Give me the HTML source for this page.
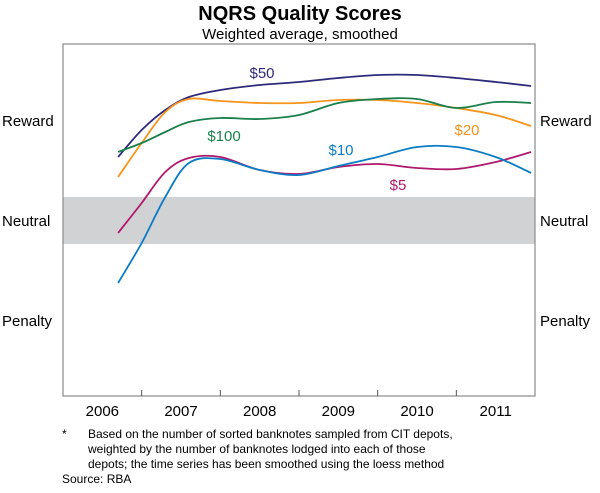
<!DOCTYPE html>
<html><head><meta charset="utf-8"><style>
body{margin:0;background:#fff;width:600px;height:488px;overflow:hidden;font-family:"Liberation Sans",Arial,sans-serif}
</style></head><body>
<svg width="600" height="488" viewBox="0 0 600 488" xmlns="http://www.w3.org/2000/svg" font-family="Liberation Sans, Arial, sans-serif">
<text x="300" y="20" text-anchor="middle" font-size="20" font-weight="bold" fill="#000">NQRS Quality Scores</text>
<text x="300" y="39" text-anchor="middle" font-size="15" fill="#000">Weighted average, smoothed</text>
<rect x="63" y="197" width="472" height="47" fill="#d1d2d4"/>
<g id="series"></g>
<rect x="63" y="44" width="472" height="352" fill="none" stroke="#8a8a8a" stroke-width="1.2"/>
<g id="xaxis"></g>
<g font-size="15" fill="#000">
<text x="2" y="126">Reward</text><text x="2" y="226">Neutral</text><text x="2" y="326">Penalty</text>
</g>
<g font-size="15" fill="#000">
<text x="540" y="126">Reward</text><text x="540" y="226">Neutral</text><text x="540" y="326">Penalty</text>
</g>
<g font-size="12" fill="#000">
<text x="62" y="438">*</text>
<text x="88" y="438">Based on the number of sorted banknotes sampled from CIT depots,</text>
<text x="88" y="453">weighted by the number of banknotes lodged into each of those</text>
<text x="88" y="468">depots; the time series has been smoothed using the loess method</text>
<text x="62" y="483">Source: RBA</text>
</g>
</svg>
<script>
const years=[2006.7,2007.0,2007.3,2007.6,2008.0,2008.5,2009.0,2009.5,2010.0,2010.5,2011.0,2011.5,2011.95];
const s50=[0.63,0.90,1.10,1.23,1.30,1.35,1.38,1.42,1.45,1.45,1.42,1.38,1.34];
const s20=[0.43,0.77,1.08,1.21,1.19,1.17,1.17,1.20,1.20,1.17,1.12,1.05,0.94];
const s100=[0.68,0.77,0.88,0.98,1.02,1.01,1.05,1.17,1.21,1.21,1.12,1.18,1.17];
const s5=[-0.13,0.17,0.48,0.62,0.63,0.50,0.46,0.53,0.56,0.52,0.51,0.58,0.68];
const s10=[-0.63,-0.23,0.23,0.57,0.61,0.50,0.45,0.54,0.63,0.73,0.73,0.63,0.47];
const tickYears=[2007,2008,2009,2010,2011];
const yearLabels=["2006","2007","2008","2009","2010","2011"];
const NS="http://www.w3.org/2000/svg";
function xs(y){return 63+78.67*(y-2006);}
function ys(v){return 220-100*v;}
function path(vals){
  const p=years.map((y,i)=>[xs(y),ys(vals[i])]);
  let d="M"+p[0][0].toFixed(1)+","+p[0][1].toFixed(1);
  for(let i=0;i<p.length-1;i++){
    const p0=p[i-1]||p[i],p1=p[i],p2=p[i+1],p3=p[i+2]||p2;
    const c1=[p1[0]+(p2[0]-p0[0])/6,p1[1]+(p2[1]-p0[1])/6];
    const c2=[p2[0]-(p3[0]-p1[0])/6,p2[1]-(p3[1]-p1[1])/6];
    d+=" C"+c1.map(n=>n.toFixed(1))+" "+c2.map(n=>n.toFixed(1))+" "+p2.map(n=>n.toFixed(1));
  }
  return d;
}
const g=document.getElementById("series");
const defs=[["line-50",s50,"#2e2a7a","$50",262,78],["line-20",s20,"#f7941d","$20",467,135],["line-100",s100,"#1a7f4b","$100",224,141],["line-5",s5,"#b0186e","$5",398,190],["line-10",s10,"#0a7cc4","$10",341,155]];
defs.forEach(d=>{
  const el=document.createElementNS(NS,"path");
  
  
  el.setAttribute("d",path(d[1]));el.setAttribute("fill","none");el.setAttribute("stroke",d[2]);el.setAttribute("stroke-width","1.8");
  g.appendChild(el);
  const t=document.createElementNS(NS,"text");
  
  
  t.setAttribute("x",d[4]);t.setAttribute("y",d[5]);t.setAttribute("text-anchor","middle");t.setAttribute("font-size","15");t.setAttribute("fill",d[2]);
  t.textContent=d[3];g.appendChild(t);
});
const xa=document.getElementById("xaxis");
tickYears.forEach(y=>{
  const l=document.createElementNS(NS,"line");
  
  
  l.setAttribute("x1",xs(y));l.setAttribute("x2",xs(y));l.setAttribute("y1",390);l.setAttribute("y2",396);l.setAttribute("stroke","#555");
  xa.appendChild(l);
});
yearLabels.forEach((s,i)=>{
  const t=document.createElementNS(NS,"text");
  
  
  t.setAttribute("x",xs(2006.5+i));t.setAttribute("y",416);t.setAttribute("text-anchor","middle");t.setAttribute("font-size","15");
  t.textContent=s;xa.appendChild(t);
});
</script>
</body></html>
